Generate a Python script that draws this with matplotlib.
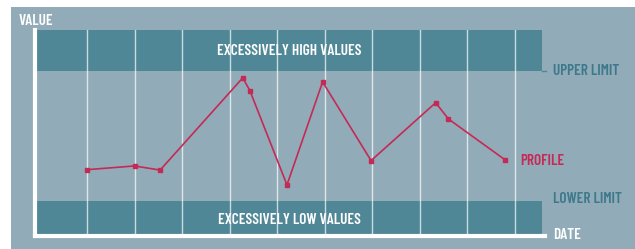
import matplotlib
matplotlib.use("Agg")
import matplotlib.pyplot as plt
from matplotlib.patches import Rectangle

# ---- data ----
profile_x = [1.0, 2.0, 2.54, 4.28, 4.43, 5.21, 5.96, 6.98, 8.34, 8.61, 9.8]
profile_y = [32.2, 34.0, 32.0, 76.8, 70.5, 24.8, 74.8, 36.6, 64.7, 56.8, 37.0]
grid_x = [1, 2, 3, 4, 5, 6, 7, 8, 9, 10]
upper_limit = 80.0
lower_limit = 17.0
band_labels = ["EXCESSIVELY HIGH VALUES", "EXCESSIVELY LOW VALUES"]
side_labels = ["UPPER LIMIT", "LOWER LIMIT", "DATE"]

FAM = ["Barlow Condensed", "DejaVu Sans"]
FW = 600
FS = 11

BG = "#91acb8"
BAND = "#4f8797"
RED = "#c42a55"
TEAL = "#3e788b"

W, H = 635, 249
fig = plt.figure(figsize=(W / 100, H / 100), dpi=100)
fig.patch.set_facecolor("white")
fig.add_artist(Rectangle((11 / W, 0), 1 - 11 / W, (H - 7) / H,
                         transform=fig.transFigure, facecolor=BG, edgecolor="none", zorder=0))

px_l, px_r, px_t, px_b = 35, 545, 30, 236
ax = fig.add_axes([px_l / W, (H - px_b) / H, (px_r - px_l) / W, (px_b - px_t) / H])
ax.set_facecolor("none")
x0px, unit = 39.5, 47.5
ax.set_xlim((px_l - x0px) / unit, (px_r - x0px) / unit)
ax.set_ylim(0, 100)

band_left = (37 - x0px) / unit
band_right = (542 - x0px) / unit
ax.fill_between([band_left, band_right], upper_limit, 100, color=BAND, lw=0, zorder=1)
ax.fill_between([band_left, band_right], 0.8, lower_limit, color=BAND, lw=0, zorder=1)
ax.plot([band_right, (546 - x0px) / unit], [upper_limit, upper_limit], color=BAND, lw=1,
        clip_on=False, zorder=1)

for gx in grid_x:
    ax.axvline(gx, color="white", lw=1.0, alpha=0.7, zorder=2)

ax.plot(profile_x, profile_y, color=RED, lw=1.2, marker="s", ms=2.3, zorder=3)

for s in ["top", "right"]:
    ax.spines[s].set_visible(False)
for s in ["left", "bottom"]:
    ax.spines[s].set_color("white")
    ax.spines[s].set_linewidth(3)
ax.set_xticks([])
ax.set_yticks([])

def label(x, y, s, color, ha="left"):
    ax.text(x, y, s, color=color, fontsize=FS, fontweight=FW, family=FAM,
            ha=ha, va="center", clip_on=False, zorder=4)

xc = (289 - x0px) / unit
label(xc, 90.0, band_labels[0], "white", ha="center")
label(xc, 7.8, band_labels[1], "white", ha="center")

xs = (553 - x0px) / unit
label(xs, 80.0, side_labels[0], TEAL)
label(xs, 18.2, side_labels[1], TEAL)
label(xs, 0.6, side_labels[2], "white")
label((520 - x0px) / unit, 36.6, "PROFILE", RED)
label((19 - x0px) / unit, 104.6, "VALUE", "white")

fig.savefig("out.png", dpi=100, facecolor=fig.get_facecolor())
